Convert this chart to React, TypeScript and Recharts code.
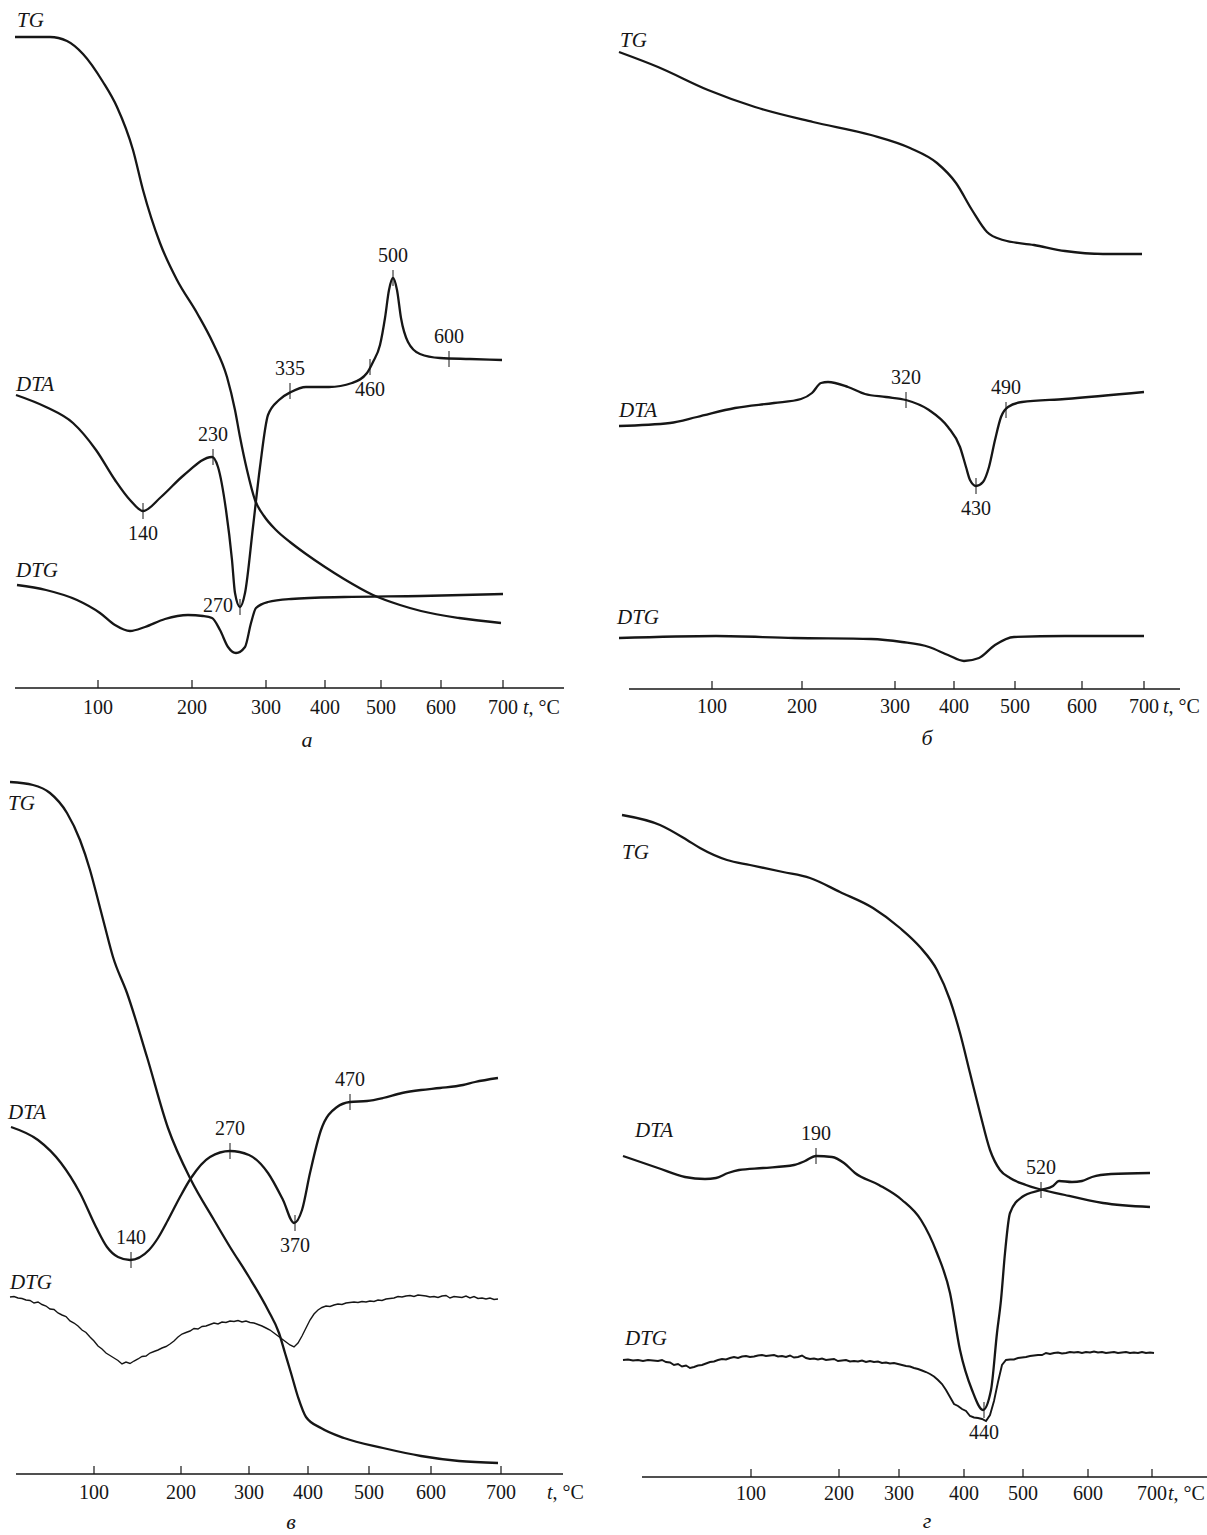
import React from 'react'
import { ComposedChart, Line, Scatter, XAxis, YAxis, ReferenceLine } from 'recharts'

type Pair = [number, number]
type Note = { x: number; y: number; label: string; side: 'above' | 'below' | 'left' }
type Name = { x: number; y: number; label: string }

const INK = '#161616'
const FONT = "'Liberation Serif', 'Times New Roman', serif"

// temperature labels under the (time-based, non-linear) recorder axis
const TICK_LABELS = ['100', '200', '300', '400', '500', '600', '700']

// x = position along the recorder chart, y = signal height above the baseline

// ---- а ----
const A_TICKS = [98, 192, 266, 325, 381, 441, 503]
const A_TG: Pair[] = [
  [15, 651], [50, 651], [67, 647], [83, 634], [103, 606], [117, 581], [133, 538], [143, 498],
  [160, 445], [177, 408], [197, 375], [213, 345], [227, 311], [235, 278], [240, 251], [247, 218],
  [255, 188], [264, 172], [276, 158], [290, 146], [306, 134], [325, 121], [344, 109], [373, 93],
  [400, 83], [421, 77], [459, 70], [501, 65],
]
const A_DTA: Pair[] = [
  [16, 293], [46, 281], [73, 265], [96, 238], [115, 208], [130, 188], [143, 177], [161, 191],
  [184, 213], [212, 231], [218, 221], [226, 178], [232, 128], [235, 95], [240, 81], [245, 95],
  [253, 161], [260, 221], [268, 273], [279, 288], [291, 296], [306, 301], [329, 301], [352, 305],
  [367, 315], [373, 326], [380, 343], [385, 370], [389, 398], [393, 410], [397, 398], [401, 370],
  [408, 346], [420, 334], [440, 330], [470, 329], [502, 328],
]
const A_DTG: Pair[] = [
  [17, 103], [46, 98], [77, 88], [100, 75], [115, 63], [130, 57], [145, 61], [165, 69], [188, 73],
  [203, 72], [212, 70], [220, 58], [228, 41], [236, 35], [245, 41], [251, 65], [256, 80], [268, 86],
  [291, 89], [344, 91], [421, 92], [503, 94],
]
const A_NOTES: Note[] = [
  { x: 143, y: 177, label: '140', side: 'below' },
  { x: 213, y: 231, label: '230', side: 'above' },
  { x: 240, y: 81, label: '270', side: 'left' },
  { x: 290, y: 297, label: '335', side: 'above' },
  { x: 370, y: 321, label: '460', side: 'below' },
  { x: 393, y: 410, label: '500', side: 'above' },
  { x: 449, y: 329, label: '600', side: 'above' },
]
const A_NAMES: Name[] = [
  { x: 17, y: 668, label: 'TG' },
  { x: 16, y: 304, label: 'DTA' },
  { x: 16, y: 118, label: 'DTG' },
]

// ---- б ----
const B_TICKS = [112, 202, 295, 354, 415, 482, 544]
const B_TG: Pair[] = [
  [19, 637], [58, 622], [108, 599], [155, 582], [213, 567], [271, 554], [310, 541], [337, 526],
  [356, 506], [372, 479], [387, 457], [403, 449], [434, 444], [465, 438], [503, 435], [542, 435],
]
const B_DTA: Pair[] = [
  [19, 263], [70, 266], [97, 272], [135, 281], [174, 286], [201, 290], [212, 296], [221, 306],
  [228, 307], [248, 302], [265, 295], [286, 292], [306, 289], [329, 279], [348, 262], [360, 242],
  [366, 222], [370, 209], [376, 203], [383, 207], [389, 222], [395, 249], [401, 272], [408, 282],
  [422, 287], [465, 290], [544, 297],
]
const B_DTG: Pair[] = [
  [19, 51], [116, 53], [194, 51], [271, 50], [302, 47], [329, 42], [348, 34], [364, 28], [379, 31],
  [395, 44], [414, 52], [465, 53], [544, 53],
]
const B_NOTES: Note[] = [
  { x: 306, y: 289, label: '320', side: 'above' },
  { x: 406, y: 279, label: '490', side: 'above' },
  { x: 376, y: 203, label: '430', side: 'below' },
]
const B_NAMES: Name[] = [
  { x: 20, y: 649, label: 'TG' },
  { x: 19, y: 279, label: 'DTA' },
  { x: 17, y: 72, label: 'DTG' },
]

// ---- в ----
const V_TICKS = [94, 181, 249, 308, 369, 431, 501]
const V_TG: Pair[] = [
  [10, 692], [33, 689], [50, 681], [67, 661], [80, 634], [90, 604], [98, 574], [105, 547],
  [113, 517], [127, 481], [147, 417], [168, 346], [191, 294], [214, 254], [230, 227], [249, 197],
  [268, 164], [279, 141], [285, 121], [291, 101], [298, 77], [306, 57], [321, 46], [344, 36],
  [383, 26], [421, 18], [459, 13], [498, 11],
]
const V_DTA: Pair[] = [
  [11, 347], [38, 334], [61, 311], [80, 281], [96, 247], [107, 227], [118, 217], [130, 214],
  [149, 224], [158, 236], [168, 254], [180, 277], [191, 296], [210, 317], [230, 323], [249, 319],
  [268, 301], [283, 274], [294, 251], [302, 264], [310, 301], [321, 344], [337, 367], [350, 372],
  [367, 373], [383, 376], [402, 381], [421, 384], [440, 386], [463, 389], [475, 392], [498, 396],
]
const V_DTG: Pair[] = [
  [10, 177], [14, 177.5], [18, 176], [22, 175.5], [26, 174], [30, 173.5], [34, 171], [38, 172],
  [42, 169.5], [46, 168], [50, 165], [54, 164.5], [58, 161], [62, 159], [66, 157.5], [70, 153],
  [74, 151], [78, 148], [82, 144], [86, 141.5], [90, 137], [94, 133], [98, 128], [102, 125],
  [106, 121], [110, 118.5], [114, 116], [118, 113.5], [122, 110], [126, 112], [130, 110.5],
  [134, 113], [138, 115], [142, 117.5], [146, 118], [150, 121], [154, 122.5], [158, 124],
  [162, 126], [166, 127.5], [170, 130], [174, 133], [178, 137], [182, 140], [186, 141.5],
  [190, 143], [194, 145.5], [198, 145], [202, 147.5], [206, 148], [210, 149.5], [214, 151],
  [218, 150], [222, 152], [226, 151.5], [230, 153], [234, 152.5], [238, 153.5], [242, 152],
  [246, 153], [250, 151.5], [254, 151], [258, 149.5], [262, 148], [266, 146], [270, 144],
  [274, 141], [278, 138], [282, 135], [286, 132], [290, 129], [294, 127], [298, 131], [302, 138],
  [306, 146], [310, 154], [314, 160], [318, 164], [322, 166.5], [326, 168], [330, 167.5],
  [334, 169], [338, 170], [342, 169.5], [346, 171], [350, 171.5], [354, 172], [358, 171.5],
  [362, 172.5], [366, 172], [370, 173], [374, 172.5], [378, 174], [382, 173.5], [386, 175],
  [390, 175.5], [394, 176], [398, 177.5], [402, 177], [406, 178], [410, 178.5], [414, 177.5],
  [418, 179], [422, 178.5], [426, 178], [430, 177], [434, 177.5], [438, 176.5], [442, 178],
  [446, 178.5], [450, 176], [454, 177.5], [458, 177], [462, 176.5], [466, 178], [470, 176],
  [474, 177.5], [478, 175.5], [482, 176], [486, 175], [490, 176], [494, 174.5], [498, 175],
]
const V_NOTES: Note[] = [
  { x: 131, y: 214, label: '140', side: 'above' },
  { x: 230, y: 323, label: '270', side: 'above' },
  { x: 295, y: 251, label: '370', side: 'below' },
  { x: 350, y: 372, label: '470', side: 'above' },
]
const V_NAMES: Name[] = [
  { x: 8, y: 671, label: 'TG' },
  { x: 8, y: 362, label: 'DTA' },
  { x: 10, y: 192, label: 'DTG' },
]

// ---- г ----
const G_TICKS = [151, 239, 299, 364, 423, 488, 552]
const G_TG: Pair[] = [
  [22, 662], [60, 652], [87, 637], [100, 629], [127, 617], [150, 612], [183, 605], [210, 599],
  [240, 585], [273, 569], [300, 549], [320, 530], [337, 507], [350, 477], [360, 444], [370, 404],
  [380, 364], [390, 327], [400, 307], [410, 299], [426, 292], [465, 282], [503, 274], [550, 270],
]
const G_DTA: Pair[] = [
  [23, 321], [58, 309], [85, 300], [105, 298], [116, 299], [128, 304], [139, 307], [163, 309],
  [194, 312], [205, 316], [216, 321], [232, 320], [244, 314], [255, 304], [279, 292], [302, 277],
  [321, 257], [337, 224], [350, 184], [360, 127], [372, 87], [383, 67], [391, 87], [397, 144],
  [401, 177], [405, 224], [410, 264], [422, 280], [441, 287], [453, 291], [459, 296], [472, 295],
  [482, 296], [492, 300], [511, 303], [550, 304],
]
const G_DTG: Pair[] = [
  [23, 117], [28, 117.5], [33, 116.5], [38, 117], [43, 116], [48, 117], [53, 116.5], [58, 116],
  [62, 117], [66, 115], [70, 114.5], [74, 112], [78, 113], [82, 110.5], [86, 111.5], [90, 109],
  [94, 110], [98, 111.5], [102, 112], [106, 113.5], [110, 115], [114, 115.5], [118, 117],
  [122, 118], [126, 117.5], [130, 119], [134, 120], [138, 119], [142, 120.5], [146, 121],
  [150, 120], [154, 120.5], [158, 121.5], [162, 122], [166, 121], [170, 121.5], [174, 122],
  [178, 120.5], [182, 121], [186, 120], [190, 121.5], [194, 119.5], [198, 120], [202, 121.5],
  [206, 119], [210, 118], [214, 118.5], [218, 117.5], [222, 118.5], [226, 117], [230, 117.5],
  [234, 118], [238, 116], [242, 116.5], [246, 117], [250, 115.5], [254, 116], [258, 115.5],
  [262, 116.5], [266, 115], [270, 116], [274, 115], [278, 115.5], [282, 114], [286, 114.5],
  [290, 113.5], [294, 114], [298, 113], [302, 112], [306, 111], [310, 110.5], [314, 109],
  [318, 108], [322, 106.5], [326, 105], [330, 103], [334, 100.5], [338, 97], [342, 93], [346, 87],
  [350, 80], [354, 73], [358, 71], [362, 68], [366, 66], [370, 61], [374, 59.5], [378, 59],
  [382, 58], [386, 56], [390, 62], [394, 76], [398, 95], [402, 112], [406, 117], [410, 117.5],
  [414, 117.5], [418, 119], [422, 119.5], [426, 120], [430, 121], [434, 121.5], [438, 122],
  [442, 122], [446, 124], [450, 123], [454, 124], [458, 124.5], [462, 123.5], [466, 124],
  [470, 125], [474, 124.5], [478, 125], [482, 124], [486, 125], [490, 124.5], [494, 125.5],
  [498, 124.5], [502, 125], [506, 124], [510, 124.5], [514, 125], [518, 124], [522, 124.5],
  [526, 125], [530, 124], [534, 124.5], [538, 124], [542, 125], [546, 124], [550, 124.5], [554, 124],
]
const G_NOTES: Note[] = [
  { x: 216, y: 321, label: '190', side: 'above' },
  { x: 441, y: 287, label: '520', side: 'above' },
  { x: 384, y: 67, label: '440', side: 'below' },
]
const G_NAMES: Name[] = [
  { x: 22, y: 625, label: 'TG' },
  { x: 35, y: 347, label: 'DTA' },
  { x: 25, y: 139, label: 'DTG' },
]

type Series = { data: Pair[]; width: number; smooth: boolean }
type PanelCfg = {
  left: number
  top: number
  width: number
  axisY: number
  axisFrom: number
  axisTo: number
  ticks: number[]
  labelDy: number
  series: Series[]
  notes: Note[]
  names: Name[]
}

const PANELS: PanelCfg[] = [
  {
    left: 0, top: 0, width: 600, axisY: 688, axisFrom: 15, axisTo: 564, ticks: A_TICKS, labelDy: 26,
    series: [
      { data: A_TG, width: 2.3, smooth: true },
      { data: A_DTA, width: 2.3, smooth: true },
      { data: A_DTG, width: 2.3, smooth: true },
    ],
    notes: A_NOTES, names: A_NAMES,
  },
  {
    left: 600, top: 0, width: 607, axisY: 689, axisFrom: 29, axisTo: 580, ticks: B_TICKS, labelDy: 24,
    series: [
      { data: B_TG, width: 2.3, smooth: true },
      { data: B_DTA, width: 2.3, smooth: true },
      { data: B_DTG, width: 2.3, smooth: true },
    ],
    notes: B_NOTES, names: B_NAMES,
  },
  {
    left: 0, top: 760, width: 600, axisY: 1474, axisFrom: 16, axisTo: 563, ticks: V_TICKS, labelDy: 25,
    series: [
      { data: V_TG, width: 2.3, smooth: true },
      { data: V_DTA, width: 2.3, smooth: true },
      { data: V_DTG, width: 1.4, smooth: false },
    ],
    notes: V_NOTES, names: V_NAMES,
  },
  {
    left: 600, top: 760, width: 607, axisY: 1477, axisFrom: 42, axisTo: 607, ticks: G_TICKS, labelDy: 23,
    series: [
      { data: G_TG, width: 2.3, smooth: true },
      { data: G_DTA, width: 2.3, smooth: true },
      { data: G_DTG, width: 1.9, smooth: false },
    ],
    notes: G_NOTES, names: G_NAMES,
  },
]

// texts below the axes (page coordinates)
const UNITS = [
  { x: 523, y: 714 },
  { x: 1163, y: 713 },
  { x: 547, y: 1499 },
  { x: 1168, y: 1500 },
]
const LETTERS = [
  { x: 307, y: 747, text: 'а' },
  { x: 927, y: 745, text: 'б' },
  { x: 291, y: 1529, text: 'в' },
  { x: 927, y: 1528, text: 'г' },
]

const toPts = (arr: Pair[]) => arr.map(([x, y]) => ({ x, y }))

function AxisTick(props: any) {
  const { x, y, payload, ticks, dy } = props
  const idx = ticks.indexOf(payload.value)
  return (
    <g>
      <line x1={x} x2={x} y1={y - 8} y2={y} stroke={INK} strokeWidth={1.2} />
      <text x={x} y={y + dy} textAnchor="middle" fontFamily={FONT} fontSize={20} fill={INK}>
        {TICK_LABELS[idx]}
      </text>
    </g>
  )
}

function NoteMark(props: any) {
  const { cx, cy, payload } = props
  const n = payload as Note
  let tx = cx
  let ty = cy - 16
  let anchor: 'middle' | 'end' = 'middle'
  if (n.side === 'below') ty = cy + 29
  if (n.side === 'left') {
    tx = cx - 7
    ty = cy + 5
    anchor = 'end'
  }
  return (
    <g>
      <line x1={cx} x2={cx} y1={cy - 8} y2={cy + 8} stroke={INK} strokeWidth={1} />
      <text x={tx} y={ty} textAnchor={anchor} fontFamily={FONT} fontSize={20} fill={INK}>
        {n.label}
      </text>
    </g>
  )
}

function NameMark(props: any) {
  const { cx, cy, payload } = props
  return (
    <text x={cx} y={cy + 7} fontFamily={FONT} fontStyle="italic" fontSize={21} fill={INK}>
      {payload.label}
    </text>
  )
}

function Panel({ cfg }: { cfg: PanelCfg }) {
  const plotH = cfg.axisY - cfg.top
  return (
    <div style={{ position: 'absolute', left: cfg.left, top: cfg.top }}>
      <ComposedChart
        width={cfg.width}
        height={plotH + 50}
        margin={{ top: 0, right: 0, bottom: 0, left: 0 }}
      >
        <XAxis
          type="number"
          dataKey="x"
          domain={[0, cfg.width]}
          ticks={cfg.ticks}
          interval={0}
          height={50}
          axisLine={false}
          tickLine={false}
          tickSize={0}
          tickMargin={0}
          tick={<AxisTick ticks={cfg.ticks} dy={cfg.labelDy} />}
        />
        <YAxis hide type="number" dataKey="y" domain={[0, plotH]} />
        <ReferenceLine
          segment={[{ x: cfg.axisFrom, y: 0 }, { x: cfg.axisTo, y: 0 }]}
          stroke={INK}
          strokeWidth={1.3}
          ifOverflow="visible"
        />
        {cfg.series.map((s, i) => (
          <Line
            key={i}
            data={toPts(s.data)}
            dataKey="y"
            type={s.smooth ? 'monotone' : 'linear'}
            stroke={INK}
            strokeWidth={s.width}
            dot={false}
            activeDot={false}
            isAnimationActive={false}
          />
        ))}
        <Scatter data={cfg.notes} dataKey="y" shape={(p: any) => <NoteMark {...p} />} isAnimationActive={false} />
        <Scatter data={cfg.names} dataKey="y" shape={(p: any) => <NameMark {...p} />} isAnimationActive={false} />
      </ComposedChart>
    </div>
  )
}

export default function App() {
  return (
    <div
      style={{
        position: 'absolute',
        left: 0,
        top: 0,
        width: 1207,
        height: 1535,
        overflow: 'hidden',
        background: '#fff',
      }}
    >
      {PANELS.map((p, i) => (
        <Panel key={i} cfg={p} />
      ))}
      <svg width={1207} height={1535} style={{ position: 'absolute', left: 0, top: 0, pointerEvents: 'none' }}>
        {UNITS.map((u, i) => (
          <text key={'u' + i} x={u.x} y={u.y} fontFamily={FONT} fontSize={20} fill={INK}>
            <tspan fontStyle="italic">t</tspan>, °C
          </text>
        ))}
        {LETTERS.map((l, i) => (
          <text key={'l' + i} x={l.x} y={l.y} textAnchor="middle" fontFamily={FONT} fontStyle="italic" fontSize={22} fill={INK}>
            {l.text}
          </text>
        ))}
      </svg>
    </div>
  )
}
